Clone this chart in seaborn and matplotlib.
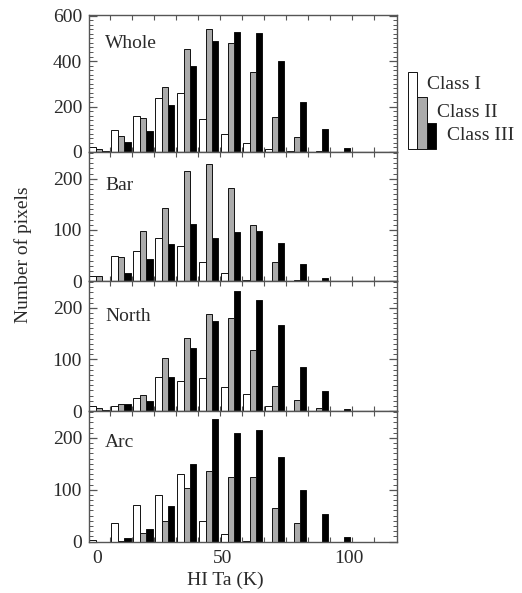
import numpy as np
import pandas as pd
import matplotlib
matplotlib.use("Agg")
import matplotlib.pyplot as plt
import seaborn as sns
from matplotlib.patches import Rectangle
from matplotlib.ticker import MultipleLocator, FixedLocator, NullFormatter

# ---------------- data ----------------
bins = list(range(14))
classes = ["Class I", "Class II", "Class III"]
regions = ["Whole", "Bar", "North", "Arc"]

whole_I   = [22, 97, 157, 237, 259, 147, 78, 41, 15, 4, 0, 0, 0, 0]
whole_II  = [15, 71, 150, 285, 452, 543, 481, 350, 154, 67, 5, 2, 0, 0]
whole_III = [5, 45, 92, 206, 378, 487, 527, 522, 402, 219, 103, 17, 0, 0]

bar_I   = [10, 49, 58, 84, 68, 37, 15, 1, 0, 0, 0, 0, 0, 0]
bar_II  = [10, 46, 97, 143, 214, 228, 182, 110, 37, 1, 0, 0, 0, 0]
bar_III = [0, 15, 43, 72, 111, 84, 95, 98, 75, 34, 6, 0, 0, 0]

north_I   = [9, 9, 26, 65, 59, 64, 46, 32, 9, 0, 0, 0, 0, 0]
north_II  = [5, 14, 31, 103, 141, 189, 180, 118, 49, 22, 5, 0, 0, 0]
north_III = [1, 13, 19, 65, 123, 175, 233, 215, 167, 86, 39, 4, 0, 0]

arc_I   = [2, 36, 71, 89, 130, 39, 14, 1, 0, 0, 0, 0, 0, 0]
arc_II  = [0, 1, 17, 39, 103, 137, 125, 125, 64, 36, 0, 0, 0, 0]
arc_III = [0, 6, 24, 68, 149, 237, 209, 216, 164, 99, 53, 8, 0, 0]

series = {
    "Whole": (whole_I, whole_II, whole_III),
    "Bar": (bar_I, bar_II, bar_III),
    "North": (north_I, north_II, north_III),
    "Arc": (arc_I, arc_II, arc_III),
}

x_tick_values = [0, 50, 100]
x_tick_labels = ["0", "50", "100"]
K_PER_BIN = 8.732      # HI Ta (K) per histogram bin
K_ZERO_POS = -0.094    # bin position of 0 K

y_ticks = {"Whole": [0, 200, 400, 600], "Bar": [0, 100, 200],
           "North": [0, 100, 200], "Arc": [0, 100, 200]}

# ---------------- style ----------------
sns.set_style("ticks")
plt.rcParams["font.family"] = ["Liberation Serif", "DejaVu Serif"]
plt.rcParams["font.size"] = 14
TXT = "#2a2a2a"
SP = "#555555"
palette = {"Class I": "white", "Class II": "#ababab", "Class III": "black"}

W, H = 522, 593
fig = plt.figure(figsize=(W / 100, H / 100), dpi=100)

# panel boxes in pixels: (top, bottom)
left_px, right_px = 89, 396.7
boxes = [(14.5, 152), (152, 281), (281, 411), (411, 541.5)]
ylims = [(0, 605), (0, 252), (0, 252), (0, 252)]
label_off = [29.5, 33, 35.7, 31.3]
xlim = (-0.455, 13.545)

for i, reg in enumerate(regions):
    top, bot = boxes[i]
    ax = fig.add_axes([left_px / W, 1 - bot / H, (right_px - left_px) / W, (bot - top) / H])
    vals = series[reg]
    df = pd.DataFrame({
        "bin": np.tile(bins, 3),
        "cls": np.repeat(classes, len(bins)),
        "count": np.concatenate([np.asarray(v, float) for v in vals]),
    })
    sns.barplot(data=df, x="bin", y="count", hue="cls", order=bins, hue_order=classes,
                palette=palette, width=0.87, gap=0, errorbar=None, edgecolor="#111111",
                linewidth=0.7, legend=False, ax=ax)
    ax.set_xlim(*xlim)
    ax.set_ylim(*ylims[i])
    ax.set_xlabel("")
    ax.set_ylabel("")
    for s in ax.spines.values():
        s.set_visible(True)
        s.set_color(SP)
        s.set_linewidth(1.0)
    # x ticks
    ax.xaxis.set_major_locator(FixedLocator([K_ZERO_POS + v / K_PER_BIN for v in x_tick_values]))
    ax.xaxis.set_minor_locator(FixedLocator([b + 0.5 for b in bins[:-1]]))
    if i == len(regions) - 1:
        ax.set_xticklabels(x_tick_labels)
    else:
        ax.set_xticklabels([])
    ax.tick_params(axis="x", which="major", length=0, pad=6, labelsize=14, labelcolor=TXT,
                   top=True, bottom=True)
    ax.tick_params(axis="x", which="minor", direction="in", length=3.5, width=0.8, color=SP,
                   top=True, bottom=True)
    # y ticks
    ax.set_yticks(y_ticks[reg])
    ax.set_yticklabels([str(t) for t in y_ticks[reg]])
    ax.yaxis.set_minor_locator(MultipleLocator(20 if reg == "Whole" else 10))
    ax.tick_params(axis="y", which="major", direction="in", length=6, width=0.9, color=SP,
                   left=True, right=True, labelsize=14, labelcolor=TXT, pad=5)
    ax.tick_params(axis="y", which="minor", direction="in", length=3, width=0.7, color=SP,
                   left=True, right=True)
    ax.text(16 / (right_px - left_px), 1 - label_off[i] / (bot - top), reg,
            transform=ax.transAxes, ha="left", va="center", fontsize=14, color=TXT)

# axis titles
fig.text(23 / W, 1 - 255 / H, "Number of pixels", rotation=90, ha="center", va="center",
         fontsize=14, color=TXT)
fig.text(225 / W, 1 - 580 / H, "HI Ta (K)", ha="center", va="center", fontsize=14, color=TXT)

# custom legend (staggered bars)
leg = [((408.3, 416.7), 72.3, "white", "Class I", 426.7, 84.3),
       ((416.7, 426.7), 96.7, "#ababab", "Class II", 436.7, 112.3),
       ((426.7, 435.7), 123.3, "black", "Class III", 446.7, 136.0)]
leg_bottom = 149
for (x0, x1), ytop, col, lab, tx, ty in leg:
    fig.add_artist(Rectangle((x0 / W, 1 - leg_bottom / H), (x1 - x0) / W, (leg_bottom - ytop) / H,
                             transform=fig.transFigure, facecolor=col, edgecolor="#111111",
                             linewidth=0.7))
    fig.text(tx / W, 1 - ty / H, lab, ha="left", va="center", fontsize=14, color=TXT)

fig.savefig("out.png", dpi=100)
